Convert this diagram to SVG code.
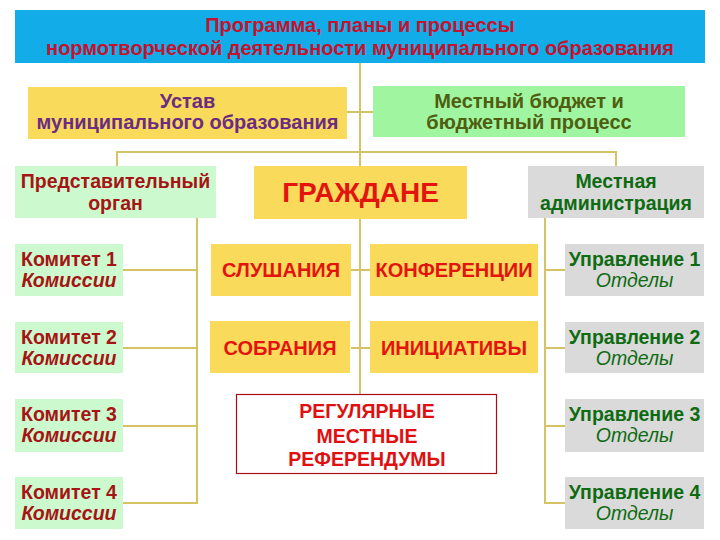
<svg xmlns="http://www.w3.org/2000/svg" width="720" height="540" viewBox="0 0 720 540">
<style>
text{font-family:"Liberation Sans",Arial,sans-serif;font-weight:bold;text-anchor:middle}
.yel{fill:#F9DA5B}
.lg{fill:#CCFACE}
.gr{fill:#DADADA}
.con line{stroke:#D6C366;stroke-width:2}
.kom{fill:#A51515;font-size:19.5px}
.upr{fill:#0F6B12;font-size:19.5px}
.red{fill:#E3140F;font-size:20px}
.it{font-style:italic}
.itn{font-style:italic;font-weight:normal}
</style>
<rect width="720" height="540" fill="#FFFFFF"/>
<g id="connectors" class="con">
<line x1="360" y1="63" x2="360" y2="166"/>
<line x1="116" y1="152" x2="617" y2="152"/>
<line x1="117" y1="151" x2="117" y2="166"/>
<line x1="616" y1="151" x2="616" y2="166"/>
<line x1="347" y1="112" x2="373" y2="112"/>
<line x1="197" y1="218" x2="197" y2="504"/>
<line x1="123" y1="270" x2="197" y2="270"/>
<line x1="123" y1="348" x2="197" y2="348"/>
<line x1="123" y1="426" x2="197" y2="426"/>
<line x1="123" y1="503" x2="198" y2="503"/>
<line x1="360" y1="219" x2="360" y2="394"/>
<line x1="351" y1="270" x2="370" y2="270"/>
<line x1="351" y1="348" x2="370" y2="348"/>
<line x1="545" y1="218" x2="545" y2="504"/>
<line x1="544" y1="270" x2="565" y2="270"/>
<line x1="544" y1="348" x2="565" y2="348"/>
<line x1="544" y1="426" x2="565" y2="426"/>
<line x1="544" y1="503" x2="565" y2="503"/>
</g>
<g id="title">
<rect x="15" y="10" width="690" height="53" fill="#12ADE9"/>
<text x="360" y="32" fill="#C4122F" font-size="20">Программа, планы и процессы</text>
<text x="360" y="55" fill="#C4122F" font-size="20">нормотворческой деятельности муниципального образования</text>
</g>
<g id="ustav">
<rect x="28" y="87" width="319" height="52" class="yel"/>
<text x="187.5" y="108" fill="#6B2C82" font-size="20">Устав</text>
<text x="187.5" y="129" fill="#6B2C82" font-size="20">муниципального образования</text>
</g>
<g id="budget">
<rect x="373" y="86" width="312" height="51" fill="#A0F5A0"/>
<text x="529" y="108" fill="#4F5E10" font-size="20">Местный бюджет и</text>
<text x="529" y="129" fill="#4F5E10" font-size="20">бюджетный процесс</text>
</g>
<g id="predst">
<rect x="15" y="166" width="201" height="52" class="lg"/>
<text x="115.5" y="188" class="kom">Представительный</text>
<text x="115.5" y="210" class="kom">орган</text>
</g>
<g id="grazhdane">
<rect x="254" y="166" width="213" height="53" class="yel"/>
<text x="360.5" y="202" fill="#E3140F" font-size="28">ГРАЖДАНЕ</text>
</g>
<g id="admin">
<rect x="528" y="166" width="176" height="52" class="gr"/>
<text x="616" y="188" class="upr">Местная</text>
<text x="616" y="210" class="upr">администрация</text>
</g>
<g id="kom1">
<rect x="15" y="244" width="108" height="52" class="lg"/>
<text x="69" y="266" class="kom">Комитет 1</text>
<text x="69" y="287" class="kom it">Комиссии</text>
</g>
<g id="kom2">
<rect x="15" y="322" width="108" height="51" class="lg"/>
<text x="69" y="344" class="kom">Комитет 2</text>
<text x="69" y="365" class="kom it">Комиссии</text>
</g>
<g id="kom3">
<rect x="15" y="399" width="108" height="53" class="lg"/>
<text x="69" y="421" class="kom">Комитет 3</text>
<text x="69" y="442" class="kom it">Комиссии</text>
</g>
<g id="kom4">
<rect x="15" y="477" width="108" height="52" class="lg"/>
<text x="69" y="499" class="kom">Комитет 4</text>
<text x="69" y="520" class="kom it">Комиссии</text>
</g>
<g id="slushaniya">
<rect x="211" y="244" width="140" height="52" class="yel"/>
<text x="281" y="277" class="red">СЛУШАНИЯ</text>
</g>
<g id="sobraniya">
<rect x="210" y="321" width="140" height="52" class="yel"/>
<text x="280" y="355" class="red">СОБРАНИЯ</text>
</g>
<g id="konferencii">
<rect x="370" y="244" width="168" height="52" class="yel"/>
<text x="454" y="277" class="red">КОНФЕРЕНЦИИ</text>
</g>
<g id="iniciativy">
<rect x="370" y="321" width="168" height="52" class="yel"/>
<text x="454" y="355" class="red">ИНИЦИАТИВЫ</text>
</g>
<g id="referendumy">
<rect x="236.5" y="394.5" width="260" height="79" fill="#FFFFFF" stroke="#A40F15" stroke-width="1.2"/>
<text x="367" y="418" fill="#E01010" font-size="19.5">РЕГУЛЯРНЫЕ</text>
<text x="367" y="443" fill="#E01010" font-size="19.5">МЕСТНЫЕ</text>
<text x="367" y="466" fill="#E01010" font-size="19.5">РЕФЕРЕНДУМЫ</text>
</g>
<g id="upr1">
<rect x="565" y="244" width="139" height="52" class="gr"/>
<text x="634.5" y="266" class="upr">Управление 1</text>
<text x="634.5" y="287" class="upr itn">Отделы</text>
</g>
<g id="upr2">
<rect x="565" y="322" width="139" height="51" class="gr"/>
<text x="634.5" y="344" class="upr">Управление 2</text>
<text x="634.5" y="365" class="upr itn">Отделы</text>
</g>
<g id="upr3">
<rect x="565" y="399" width="139" height="53" class="gr"/>
<text x="634.5" y="421" class="upr">Управление 3</text>
<text x="634.5" y="442" class="upr itn">Отделы</text>
</g>
<g id="upr4">
<rect x="565" y="477" width="139" height="52" class="gr"/>
<text x="634.5" y="499" class="upr">Управление 4</text>
<text x="634.5" y="520" class="upr itn">Отделы</text>
</g>
</svg>
